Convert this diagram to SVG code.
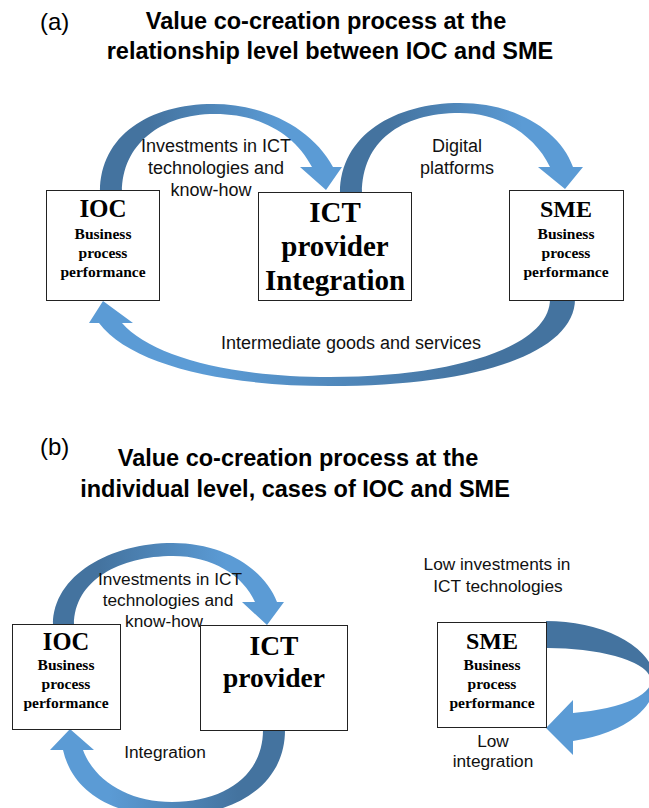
<svg xmlns="http://www.w3.org/2000/svg" width="649" height="808" viewBox="0 0 649 808">
<style>
.box{fill:#fff;stroke:#222;stroke-width:1}
.title{font-family:"Liberation Sans",Arial,sans-serif;font-weight:bold;font-size:23.5px;fill:#000;text-anchor:middle}
.tag{font-family:"Liberation Sans",Arial,sans-serif;font-size:24px;fill:#000}
.lbl{font-family:"Liberation Sans",Arial,sans-serif;font-size:18px;fill:#111;text-anchor:middle}
.lblb{font-family:"Liberation Sans",Arial,sans-serif;font-size:17.3px;fill:#111;text-anchor:middle}
.big{font-family:"Liberation Serif","Times New Roman",serif;font-weight:bold;fill:#000;text-anchor:middle}
.sm{font-family:"Liberation Serif","Times New Roman",serif;font-weight:bold;font-size:15.5px;fill:#000;text-anchor:middle}
</style>
<defs>
<linearGradient id="gLR" x1="0" y1="0" x2="1" y2="0">
<stop offset="0.2" stop-color="#44739f"/>
<stop offset="0.75" stop-color="#5b9bd5"/>
</linearGradient>
<linearGradient id="gRL" x1="1" y1="0" x2="0" y2="0">
<stop offset="0.2" stop-color="#44739f"/>
<stop offset="0.75" stop-color="#5b9bd5"/>
</linearGradient>
<linearGradient id="gTB" x1="0" y1="0" x2="0" y2="1">
<stop offset="0.4" stop-color="#44739f"/>
<stop offset="0.55" stop-color="#5b9bd5"/>
</linearGradient>
</defs>
<rect width="649" height="808" fill="#fff"/>

<g id="titles">
<text class="tag" x="40" y="30">(a)</text>
<text class="title" x="326" y="29">Value co-creation process at the</text>
<text class="title" x="330" y="59">relationship level between IOC and SME</text>
<text class="tag" x="40" y="455">(b)</text>
<text class="title" x="298" y="466">Value co-creation process at the</text>
<text class="title" x="295" y="497">individual level, cases of IOC and SME</text>
</g>

<g id="connectors">
<path id="a-ioc-ict" fill="url(#gLR)" d="M100 192 C100 135 150 104 213 104 C265 104 312 128 333 167 L342 167 L326 190 L300 167 L312 167 C295 134 260 114 215 114 C160 114 122 145 122 192 Z"/>
<path id="a-ict-sme" fill="url(#gLR)" d="M340 193 C340 135 395 103 460 103 C515 103 560 130 573 167 L583 167 L565 189 L538 167 L550 167 C535 135 500 113 460 113 C400 113 362 142 362 193 Z"/>
<path id="a-sme-ioc" fill="url(#gRL)" d="M575 299 C575 352 480 386 330 386 C220 386 130 364 99 323 L89 323 L103 301 L133 323 L122 323 C150 355 225 377 330 377 C460 377 550 345 550 299 Z"/>
<path id="b-ioc-ict" fill="url(#gLR)" d="M53 625 C53 575 110 543 173 543 C225 543 265 570 277 602 L284 602 L267 625 L242 602 L255 602 C243 575 212 556 173 556 C120 556 74 580 74 625 Z"/>
<path id="b-ict-ioc" fill="url(#gRL)" d="M285 730 C285 785 235 816 170 816 C110 816 72 790 63 750 L50 750 L70 729 L94 750 L83 750 C95 782 130 802 172 802 C225 802 263 775 263 730 Z"/>
<path id="b-sme-loop" fill="url(#gTB)" d="M546 621 A110 61 0 0 1 573 741 L573 755 L546 728 L573 700 L573 713 A103 33 0 0 0 546 648 Z"/>
</g>

<g id="labels">
<text class="lbl" x="216" y="152">Investments in ICT</text>
<text class="lbl" x="216" y="174">technologies and</text>
<text class="lbl" x="211" y="196">know-how</text>
<text class="lbl" x="457" y="152">Digital</text>
<text class="lbl" x="457" y="174">platforms</text>
<text class="lbl" x="351" y="349">Intermediate goods and services</text>
<text class="lblb" x="170" y="585">Investments in ICT</text>
<text class="lblb" x="168" y="606">technologies and</text>
<text class="lblb" x="164" y="627">know-how</text>
<text class="lblb" x="165" y="758">Integration</text>
<text class="lblb" x="497" y="570">Low investments in</text>
<text class="lblb" x="498" y="592">ICT technologies</text>
<text class="lblb" x="493" y="747">Low</text>
<text class="lblb" x="493" y="767">integration</text>
</g>

<g id="a-ioc">
<rect class="box" x="46.5" y="190.5" width="113" height="110"/>
<text class="big" x="103" y="217" font-size="25">IOC</text>
<text class="sm" x="103" y="239">Business</text>
<text class="sm" x="103" y="258">process</text>
<text class="sm" x="103" y="277">performance</text>
</g>
<g id="a-ict">
<rect class="box" x="258.5" y="192.5" width="153" height="108"/>
<text class="big" x="335" y="222" font-size="29">ICT</text>
<text class="big" x="335" y="256" font-size="29">provider</text>
<text class="big" x="335" y="290" font-size="29">Integration</text>
</g>
<g id="a-sme">
<rect class="box" x="509.5" y="190.5" width="114" height="110"/>
<text class="big" x="566" y="217" font-size="24">SME</text>
<text class="sm" x="566" y="239">Business</text>
<text class="sm" x="566" y="258">process</text>
<text class="sm" x="566" y="277">performance</text>
</g>

<g id="b-ioc">
<rect class="box" x="12.5" y="624.5" width="108" height="105"/>
<text class="big" x="66" y="650" font-size="24.5">IOC</text>
<text class="sm" x="66" y="670">Business</text>
<text class="sm" x="66" y="689">process</text>
<text class="sm" x="66" y="708">performance</text>
</g>
<g id="b-ict">
<rect class="box" x="200.5" y="625.5" width="147" height="105"/>
<text class="big" x="274" y="655" font-size="27.5">ICT</text>
<text class="big" x="274" y="687" font-size="27.5">provider</text>
</g>
<g id="b-sme">
<rect class="box" x="437.5" y="622.5" width="109" height="105"/>
<text class="big" x="492" y="649" font-size="24">SME</text>
<text class="sm" x="492" y="670">Business</text>
<text class="sm" x="492" y="689">process</text>
<text class="sm" x="492" y="708">performance</text>
</g>
</svg>
